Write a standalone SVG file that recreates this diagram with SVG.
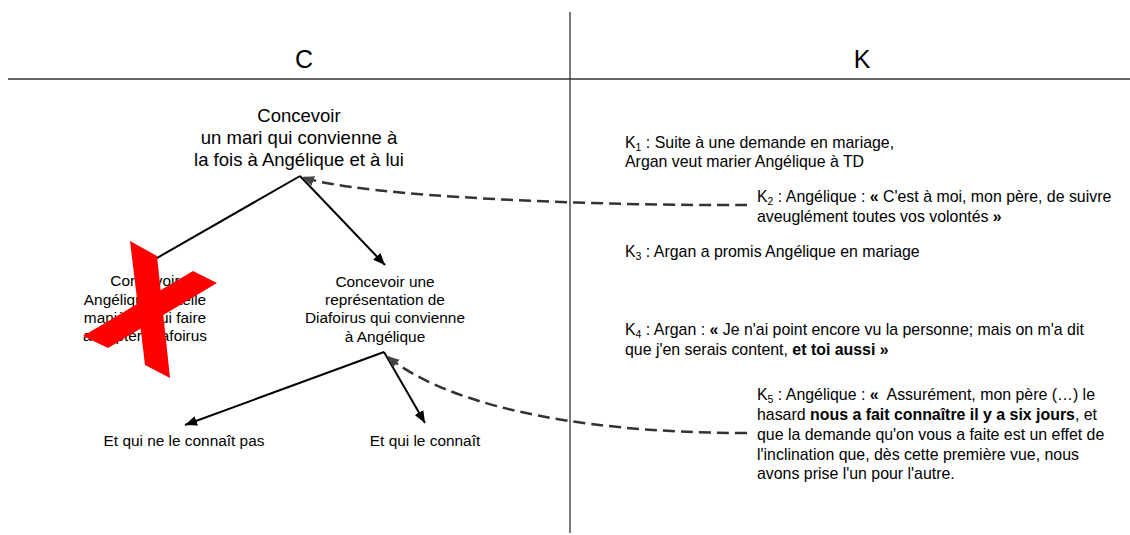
<svg xmlns="http://www.w3.org/2000/svg" width="1130" height="535" viewBox="0 0 1130 535">
<style>
text{font-family:"Liberation Sans",Arial,sans-serif;fill:#000}
.title{font-size:25px}
.top{font-size:18.5px;text-anchor:middle}
.node{font-size:15.4px;text-anchor:middle}
.leaf{font-size:15.4px;text-anchor:middle}
.k{font-size:15.9px}
.b{font-weight:bold}
.sub{font-size:10.5px}
.frame{stroke:#333;stroke-width:1.3;fill:none}
.solid{stroke:#000;stroke-width:2;fill:none}
.dash{stroke:#333;stroke-width:2.5;fill:none;stroke-dasharray:12 6}
</style>
<defs>
<marker id="ah" markerUnits="userSpaceOnUse" markerWidth="14" markerHeight="12" refX="12" refY="5" orient="auto">
<path d="M0,0 L12,5 L0,10 Z" fill="#000"/>
</marker>
<marker id="ahd" markerUnits="userSpaceOnUse" markerWidth="14" markerHeight="12" refX="12" refY="5" orient="auto">
<path d="M0,0 L12,5 L0,10 Z" fill="#444"/>
</marker>
</defs>
<rect width="1130" height="535" fill="#fff"/>
<g id="frame">
<line class="frame" x1="570" y1="12" x2="570" y2="533"/>
<line class="frame" x1="8" y1="79" x2="1130" y2="79" stroke-width="1.6"/>
<text class="title" x="304" y="68" text-anchor="middle">C</text>
<text class="title" x="862" y="68" text-anchor="middle">K</text>
</g>
<g id="connectors">
<line class="solid" x1="300" y1="176" x2="150" y2="262"/>
<line class="solid" x1="300" y1="176" x2="385" y2="265" marker-end="url(#ah)"/>
<line class="solid" x1="384" y1="352" x2="185" y2="425" marker-end="url(#ah)"/>
<line class="solid" x1="384" y1="352" x2="425" y2="423" marker-end="url(#ah)"/>
<path class="dash" d="M747,205 C600,206 360,197 302,177" marker-end="url(#ahd)"/>
<path class="dash" d="M747,433 C560,433 440,400 387,356" marker-end="url(#ahd)"/>
</g>
<g id="node-top">
<text class="top" x="299" y="122">Concevoir</text>
<text class="top" x="299" y="144">un mari qui convienne à</text>
<text class="top" x="299" y="166">la fois à Angélique et à lui</text>
</g>
<g id="node-left">
<text class="node" x="145" y="286">Concevoir</text>
<text class="node" x="145" y="305">Angélique de telle</text>
<text class="node" x="145" y="323">manière à lui faire</text>
<text class="node" x="145" y="341">accepter Diafoirus</text>
</g>
<g id="cross">
<polygon points="130,241 157,256 170,378 145,365" fill="#ff0000"/>
<polygon points="83,336 193,271 217,283 108,348" fill="#ff0000"/>
</g>
<g id="node-right">
<text class="node" x="385" y="287">Concevoir une</text>
<text class="node" x="385" y="305">représentation de</text>
<text class="node" x="385" y="323">Diafoirus qui convienne</text>
<text class="node" x="385" y="342">à Angélique</text>
</g>
<g id="leaf-1">
<text class="leaf" x="184" y="446">Et qui ne le connaît pas</text>
</g>
<g id="leaf-2">
<text class="leaf" x="425" y="446">Et qui le connaît</text>
</g>
<g id="k1">
<text class="k" x="625" y="148">K<tspan class="sub" dy="3">1</tspan><tspan dy="-3"> : Suite à une demande en mariage,</tspan></text>
<text class="k" x="625" y="167">Argan veut marier Angélique à TD</text>
</g>
<g id="k2">
<text class="k" x="757" y="202">K<tspan class="sub" dy="3">2</tspan><tspan dy="-3"> : Angélique : </tspan><tspan class="b">«</tspan> C'est à moi, mon père, de suivre</text>
<text class="k" x="757" y="222">aveuglément toutes vos volontés <tspan class="b">»</tspan></text>
</g>
<g id="k3">
<text class="k" x="625" y="257">K<tspan class="sub" dy="3">3</tspan><tspan dy="-3"> : Argan a promis Angélique en mariage</tspan></text>
</g>
<g id="k4">
<text class="k" x="625" y="335">K<tspan class="sub" dy="3">4</tspan><tspan dy="-3"> : Argan : </tspan><tspan class="b">«</tspan> Je n'ai point encore vu la personne; mais on m'a dit</text>
<text class="k" x="625" y="355">que j'en serais content, <tspan class="b">et toi aussi »</tspan></text>
</g>
<g id="k5">
<text class="k" x="757" y="400">K<tspan class="sub" dy="3">5</tspan><tspan dy="-3"> : Angélique : </tspan><tspan class="b">«</tspan>&#160; Assurément, mon père (…) le</text>
<text class="k" x="757" y="420">hasard <tspan class="b">nous a fait connaître il y a six jours</tspan>, et</text>
<text class="k" x="757" y="440">que la demande qu'on vous a faite est un effet de</text>
<text class="k" x="757" y="460">l'inclination que, dès cette première vue, nous</text>
<text class="k" x="757" y="479">avons prise l'un pour l'autre.</text>
</g>
</svg>
